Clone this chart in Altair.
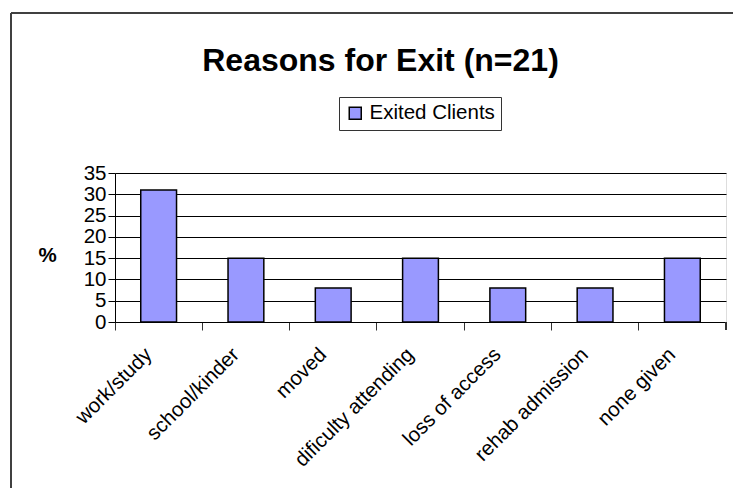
import altair as alt
import pandas as pd

reasons = ["work/study", "school/kinder", "moved", "dificulty attending",
           "loss of access", "rehab admission", "none given"]
percent = [31, 15, 8, 15, 8, 8, 15]
series = ["Exited Clients"] * len(reasons)
y_ticks = [0, 5, 10, 15, 20, 25, 30, 35]

df = pd.DataFrame({"reason": reasons, "percent": percent, "series": series})

FONT = "Liberation Sans, Arial, sans-serif"
FS = 20.5

bars = alt.Chart(df).mark_bar(
    stroke="black", strokeWidth=1.5, width=alt.RelativeBandSize(0.41)
).encode(
    x=alt.X("reason:N", sort=reasons, scale=alt.Scale(paddingInner=0, paddingOuter=0),
            axis=alt.Axis(title=None, labelAngle=-45, labelFontSize=FS, labelFont=FONT,
                          labelColor="black", bandPosition=0, tickColor="#333333",
                          tickSize=8, domainColor="black", labelPadding=14,
                          labelOffset=-17, ticks=True, grid=False)),
    y=alt.Y("percent:Q", scale=alt.Scale(domain=[0, 35], nice=False),
            axis=alt.Axis(values=y_ticks, title="%", titleAngle=0, titleFontSize=FS,
                          titleFont=FONT, titleFontWeight="bold", titleX=-68, titleY=82,
                          titleAlign="center", titleBaseline="middle",
                          labelFontSize=FS, labelFont=FONT, labelColor="black",
                          tickSize=7, tickColor="black", domainColor="black",
                          labelPadding=2, grid=True, gridColor="black", gridWidth=1)),
    fill=alt.Fill("series:N", scale=alt.Scale(range=["#9999FF"]),
                  legend=alt.Legend(title=None, orient="none", legendX=224, legendY=-76,
                                    strokeColor="#333333", padding=6, symbolType="square",
                                    symbolSize=144, symbolStrokeColor="black",
                                    symbolStrokeWidth=1.5, labelFontSize=FS,
                                    labelFont=FONT, labelColor="black", labelOffset=4,
                                    fillColor="white")),
)

end_tick = alt.Chart(df).mark_rule(color="#333333", strokeWidth=1).encode(
    x=alt.value(611), y=alt.value(149), y2=alt.value(157)
)

border_left = alt.Chart(df).mark_rule(color="#404040", strokeWidth=2).encode(
    x=alt.value(-104), y=alt.value(-160), y2=alt.value(320)
)
border_top = alt.Chart(df).mark_rule(color="#404040", strokeWidth=2).encode(
    x=alt.value(-104), x2=alt.value(620), y=alt.value(-160)
)

chart = alt.layer(bars, end_tick, border_left, border_top).properties(
    width=611, height=149,
    title=alt.TitleParams("Reasons for Exit (n=21)", fontSize=32, fontWeight="bold",
                          font=FONT, color="black", anchor="middle", dx=-40, offset=-91,
                          baseline="alphabetic"),
    autosize=alt.AutoSizeParams(type="none"),
    padding={"left": 115, "top": 173, "right": 7, "bottom": 166},
).configure_view(
    fill="#C0C0C0", stroke="#808080", strokeWidth=2
).configure(background="white")

chart.save("out.html", embed_options={"renderer": "svg", "actions": False})
